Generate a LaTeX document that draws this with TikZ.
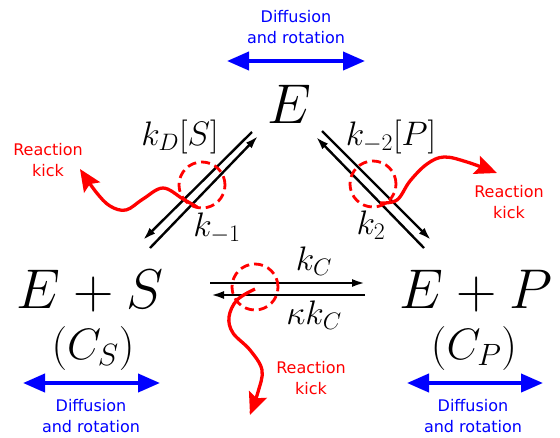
\documentclass[tikz,border=0pt]{standalone}
\usepackage{fix-cm}
\usepackage{fontspec}
\setsansfont{DejaVu Sans}
\usetikzlibrary{positioning, arrows.meta}

\begin{document}
\begin{tikzpicture}[
  x=1pt, y=-1pt,
  species/.style={inner sep=0pt, anchor=base, font=\fontsize{56}{60}\selectfont},
  phase/.style={inner sep=0pt, anchor=base, font=\fontsize{44}{48}\selectfont},
  rate/.style={inner sep=0pt, anchor=base, font=\fontsize{34}{36}\selectfont},
  note/.style={align=center, inner sep=0pt, font=\sffamily\fontsize{16}{21.5}\selectfont},
  diff/.style={{Triangle[length=22pt,width=18pt]}-{Triangle[length=22pt,width=18pt]},
               blue, line width=4pt},
  rxn/.style={-{Latex[length=13pt,width=8pt]}, line width=2.4pt},
  ring/.style={draw=red, dash pattern=on 9pt off 5pt, line width=2.8pt,
               circle, minimum size=46pt, inner sep=0pt},
  kick/.style={red, line width=3.3pt, -{Stealth[length=22pt,width=19pt,inset=4pt]}},
]
\useasboundingbox (0,0) rectangle (560,437);

%% ---- Species ----

\node[species] (enz) at (289,123) {$E$};
\node[species] (es)  at (90,308)  {$E+S$};
\node[species] (ep)  at (476,308) {$E+P$};

\node[phase] (cs) at (93,359)  {$(C_S)$};
\node[phase] (cp) at (474,359) {$(C_P)$};

%% ---- Diffusion and rotation ----

\coordinate (dtl) at (227,61);  \coordinate (dtr) at (365,61);
\coordinate (dll) at (23,383);  \coordinate (dlr) at (160,383);
\coordinate (drl) at (407,383); \coordinate (drr) at (543,383);

\draw[diff] (dtl) -- (dtr);
\draw[diff] (dll) -- (dlr);
\draw[diff] (drl) -- (drr);

\node[note, text=blue] (difftop)   at (296,27)  {Diffusion\\and rotation};
\node[note, text=blue] (diffleft)  at (91,416)  {Diffusion\\and rotation};
\node[note, text=blue] (diffright) at (473,416) {Diffusion\\and rotation};

%% ---- Reaction arrows ----

% E <-> E+S
\coordinate (a1) at (252,132); \coordinate (a2) at (143,240);
\coordinate (b1) at (150,248); \coordinate (b2) at (258,136);
\draw[rxn] (a1) -- (a2);
\draw[rxn] (b1) -- (b2);

% E <-> E+P
\coordinate (c1) at (322,131); \coordinate (c2) at (431,240);
\coordinate (d1) at (424,248); \coordinate (d2) at (316,137);
\draw[rxn] (c1) -- (c2);
\draw[rxn] (d1) -- (d2);

% E+S <-> E+P
\coordinate (h1) at (210,283); \coordinate (h2) at (365,283);
\coordinate (g1) at (365,295); \coordinate (g2) at (211,295);
\draw[rxn] (h1) -- (h2);
\draw[rxn] (g1) -- (g2);

\node[rate] (kds)  at (180,145) {$k_D[S]$};
\node[rate] (km1)  at (217,236) {$k_{-1}$};
\node[rate] (km2p) at (391,145) {$k_{-2}[P]$};
\node[rate] (k2)   at (371,234) {$k_2$};
\node[rate] (kc)   at (314,270) {$k_C$};
\node[rate] (kkc)  at (314,324) {$\kappa k_C$};

%% ---- Reaction kicks ----

\node[ring] (ringl) at (202,185) {};
\node[ring] (ringr) at (373,184) {};
\node[ring] (ringb) at (255,287) {};

\draw[kick] plot[smooth, tension=0.6] coordinates
  {(197,207) (183,199) (163,188) (143,199) (126,210) (110,206) (96,192) (80,169)};
\draw[kick] plot[smooth, tension=0.6] coordinates
  {(380,203) (397,200) (410,181) (427,164) (444,157) (467,162) (497,173)};
\draw[kick] plot[smooth, tension=0.6] coordinates
  {(255,289) (237,300) (229,317) (233,333) (250,350) (262,370) (258,392) (250,415)};

\node[note, text=red] (kickl) at (48,160)  {Reaction\\kick};
\node[note, text=red] (kickr) at (509,202) {Reaction\\kick};
\node[note, text=red] (kickb) at (311,378) {Reaction\\kick};

\end{tikzpicture}
\end{document}
